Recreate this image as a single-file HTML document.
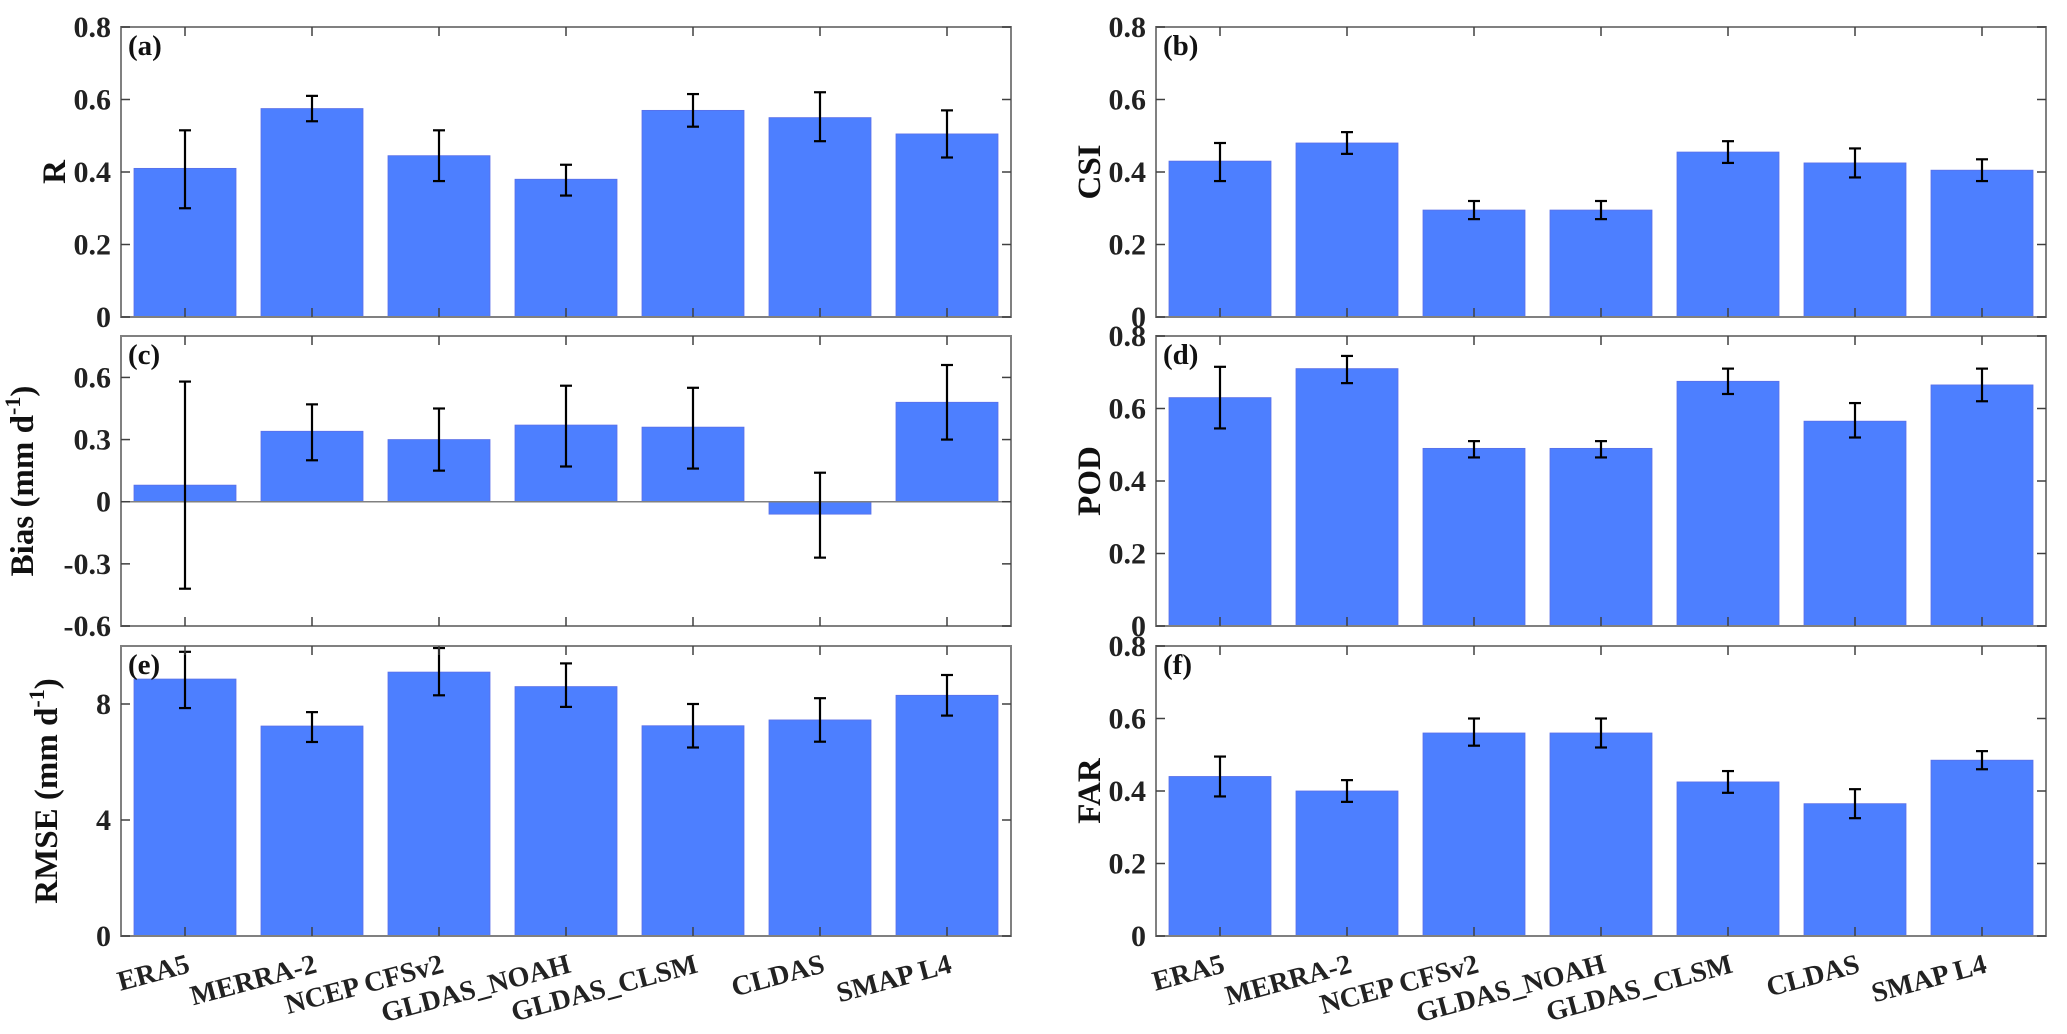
<!DOCTYPE html>
<html><head><meta charset="utf-8"><style>
body{margin:0;background:#fff}
svg{display:block;font-family:"Liberation Serif","Times New Roman",serif;font-weight:bold}
text{font-family:"Liberation Serif","Times New Roman",serif;font-weight:bold}
</style></head><body>
<svg id="chart" width="2067" height="1034" viewBox="0 0 2067 1034" xmlns="http://www.w3.org/2000/svg"></svg>
<script>
const categories=["ERA5","MERRA-2","NCEP CFSv2","GLDAS_NOAH","GLDAS_CLSM","CLDAS","SMAP L4"];
const rVals=[0.41,0.575,0.445,0.38,0.57,0.55,0.505];
const rLo=[0.30,0.54,0.375,0.335,0.525,0.485,0.44];
const rHi=[0.515,0.61,0.515,0.42,0.615,0.62,0.57];
const csiVals=[0.43,0.48,0.295,0.295,0.455,0.425,0.405];
const csiLo=[0.375,0.45,0.27,0.27,0.425,0.385,0.375];
const csiHi=[0.48,0.51,0.32,0.32,0.485,0.465,0.435];
const biasVals=[0.08,0.34,0.30,0.37,0.36,-0.06,0.48];
const biasLo=[-0.42,0.20,0.15,0.17,0.16,-0.27,0.30];
const biasHi=[0.58,0.47,0.45,0.56,0.55,0.14,0.66];
const podVals=[0.63,0.71,0.49,0.49,0.675,0.565,0.665];
const podLo=[0.545,0.67,0.465,0.465,0.64,0.52,0.62];
const podHi=[0.715,0.745,0.51,0.51,0.71,0.615,0.71];
const rmseVals=[8.86,7.24,9.1,8.6,7.25,7.45,8.3];
const rmseLo=[7.86,6.69,8.3,7.9,6.5,6.7,7.6];
const rmseHi=[9.8,7.72,9.93,9.4,8.0,8.2,9.0];
const farVals=[0.44,0.40,0.56,0.56,0.425,0.365,0.485];
const farLo=[0.385,0.37,0.525,0.52,0.395,0.325,0.46];
const farHi=[0.495,0.43,0.60,0.60,0.455,0.405,0.51];
const ticks01=["0","0.2","0.4","0.6","0.8"];
const ticksBias=["-0.6","-0.3","0","0.3","0.6"];
const ticksRmse=["0","4","8"];

const NS="http://www.w3.org/2000/svg";
const svg=document.getElementById('chart');
function mk(tag,attrs,parent,text){const e=document.createElementNS(NS,tag);for(const k in attrs)e.setAttribute(k,attrs[k]);if(text!==undefined)e.textContent=text;(parent||svg).appendChild(e);return e;}

const panels=[
 {id:"a",x:121,y:27,min:0,max:0.8,ticks:ticks01,vals:rVals,lo:rLo,hi:rHi,title:"R",sup:false},
 {id:"b",x:1156,y:27,min:0,max:0.8,ticks:ticks01,vals:csiVals,lo:csiLo,hi:csiHi,title:"CSI",sup:false},
 {id:"c",x:121,y:336,min:-0.6,max:0.8,ticks:ticksBias,vals:biasVals,lo:biasLo,hi:biasHi,title:"Bias (mm d",sup:true},
 {id:"d",x:1156,y:336,min:0,max:0.8,ticks:ticks01,vals:podVals,lo:podLo,hi:podHi,title:"POD",sup:false},
 {id:"e",x:121,y:646,min:0,max:10,ticks:ticksRmse,vals:rmseVals,lo:rmseLo,hi:rmseHi,title:"RMSE (mm d",sup:true,xl:true},
 {id:"f",x:1156,y:646,min:0,max:0.8,ticks:ticks01,vals:farVals,lo:farLo,hi:farHi,title:"FAR",sup:false,xl:true}
];
const W=890,H=290,step=127,bw=102;
panels.forEach(p=>{
 const g=mk('g',{});
 
 
 const y=v=>p.y+H-(v-p.min)/(p.max-p.min)*H;
 const xc=i=>p.x+64+i*step;
 const y0=y(Math.max(0,p.min));
 p.vals.forEach((v,i)=>{
  const r=mk('rect',{x:xc(i)-bw/2,y:Math.min(y(v),y0),width:bw,height:Math.abs(y(v)-y0),fill:'#4d7fff',stroke:'#5a6fe8','stroke-width':0.8},g);
  
  
 });
 if(p.min<0){const z=mk('line',{x1:p.x,x2:p.x+W,y1:y0,y2:y0,stroke:'#808080','stroke-width':1.5},g);
  }
 p.vals.forEach((v,i)=>{
  const e=mk('g',{stroke:'#000','stroke-width':2.2},g);
  
  
  const cx=xc(i),a=y(p.lo[i]),b=y(p.hi[i]);
  mk('line',{x1:cx,x2:cx,y1:a,y2:b},e);
  mk('line',{x1:cx-6,x2:cx+6,y1:a,y2:a},e);
  mk('line',{x1:cx-6,x2:cx+6,y1:b,y2:b},e);
 });
 const fr=mk('rect',{x:p.x,y:p.y,width:W,height:H,fill:'none',stroke:'#808080','stroke-width':2},g);
 
 p.vals.forEach((v,i)=>{
  mk('line',{x1:xc(i),x2:xc(i),y1:p.y+H,y2:p.y+H-9,stroke:'#404040','stroke-width':1.5},g);
  mk('line',{x1:xc(i),x2:xc(i),y1:p.y,y2:p.y+9,stroke:'#404040','stroke-width':1.5},g);
 });
 p.ticks.forEach(t=>{
  const ty=y(parseFloat(t));
  mk('line',{x1:p.x,x2:p.x+9,y1:ty,y2:ty,stroke:'#404040','stroke-width':1.5},g);
  mk('line',{x1:p.x+W,x2:p.x+W-9,y1:ty,y2:ty,stroke:'#404040','stroke-width':1.5},g);
  const tl=mk('text',{x:p.x-10,y:ty+10,'text-anchor':'end','font-size':30,fill:'#222'},g,t);
  
 });
 const pl=mk('text',{x:p.x+7,y:p.y+28,'font-size':29,fill:'#111'},g,'('+p.id+')');
 
 const tx=p.x-68,ty=p.y+H/2;
 const tt=mk('text',{x:0,y:0,'text-anchor':'middle','font-size':33,fill:'#111',transform:`translate(${p.sup?tx-(p.id==='c'?20:-4):tx+12},${ty}) rotate(-90)`},g);
 
 if(p.sup){mk('tspan',{},tt,p.title);mk('tspan',{dy:-13,'font-size':22},tt,'-1');mk('tspan',{dy:13},tt,')');}
 else tt.textContent=p.title;
 if(p.xl){
  categories.forEach((c,i)=>{
   const lx=xc(i)+6,ly=p.y+H+36;
   const l=mk('text',{x:0,y:0,'text-anchor':'end','font-size':28,fill:'#222',transform:`translate(${lx},${ly}) rotate(-15)`},g,c);
   
  });
 }
});
</script>
</body></html>
